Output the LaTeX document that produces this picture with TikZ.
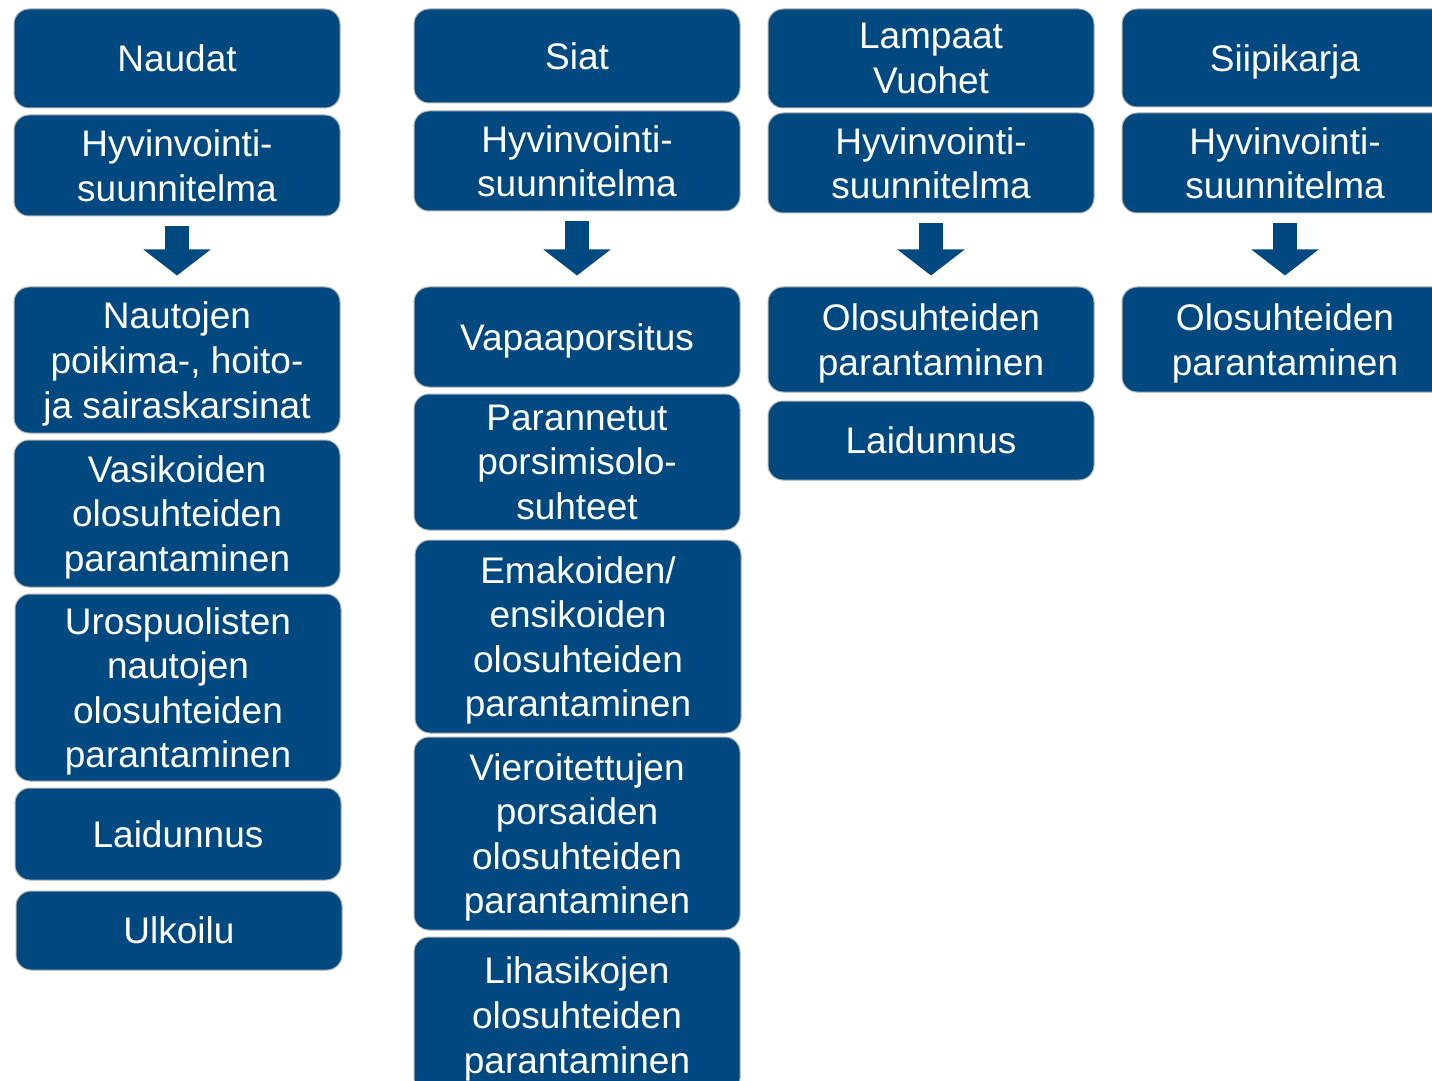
\documentclass[tikz,border=0pt]{standalone}
\usepackage{fontspec}
\setmainfont{Liberation Sans}
\usetikzlibrary{arrows.meta}
\definecolor{boxblue}{RGB}{0,73,128}

\begin{document}
\begin{tikzpicture}[x=0.5pt,y=-0.5pt,
  box/.style={fill=boxblue,draw=black!30,line width=0.5pt,rounded corners=7.5pt,
    text=white,align=center,inner sep=0pt,minimum width=163pt,minimum height=#1,
    font=\fontsize{18.5}{22.3}\selectfont,text depth=-1pt},
  flow/.style={boxblue,line width=12pt,shorten <=5pt,shorten >=5.5pt,
    -{Triangle[width=33pt,length=13pt]}}]
\clip (0,0) rectangle (1432,1081);
\fill[white] (0,0) rectangle (1432,1081);

 \node[box=49.5pt] (naudat) at (177,58.5) {Naudat};
 \node[box=50.5pt] (hyv1) at (177,165.5) {Hyvinvointi-\\suunnitelma};
 \node[box=73pt] (nautojen) at (177,360) {Nautojen\\poikima-, hoito-\\ja sairaskarsinat};
 \node[box=73.5pt] (vasikat) at (177,513.5) {Vasikoiden\\olosuhteiden\\parantaminen};
 \node[box=93.5pt] (urokset) at (178,687.5) {Urospuolisten\\nautojen\\olosuhteiden\\parantaminen};
 \node[box=46pt] (laidunnus1) at (178,834) {Laidunnus};
 \node[box=39.5pt] (ulkoilu) at (179,930.5) {Ulkoilu};

 \node[box=47pt] (siat) at (577,56) {Siat};
 \node[box=50pt] (hyv2) at (577,161) {Hyvinvointi-\\suunnitelma};
 \node[box=50pt] (vapaa) at (577,337) {Vapaaporsitus};
 \node[box=68pt] (porsimis) at (577,462) {Parannetut\\porsimisolo-\\suhteet};
 \node[box=96.5pt] (emakot) at (578,636.5) {Emakoiden/\\ensikoiden\\olosuhteiden\\parantaminen};
 \node[box=96.5pt] (vieroitetut) at (577,833.5) {Vieroitettujen\\porsaiden\\olosuhteiden\\parantaminen};
 \node[box=78pt] (lihasiat) at (577,1015) {Lihasikojen\\olosuhteiden\\parantaminen};

 \node[box=49.5pt] (lampaat) at (931,58.5) {Lampaat\\Vuohet};
 \node[box=50pt] (hyv3) at (931,163) {Hyvinvointi-\\suunnitelma};
 \node[box=52.5pt] (olo3) at (931,339.5) {Olosuhteiden\\parantaminen};
 \node[box=39.5pt] (laidunnus3) at (931,440.5) {Laidunnus};

 \node[box=49pt] (siipikarja) at (1285,58) {Siipikarja};
 \node[box=50pt] (hyv4) at (1285,163) {Hyvinvointi-\\suunnitelma};
 \node[box=52.5pt] (olo4) at (1285,339.5) {Olosuhteiden\\parantaminen};

 \draw[flow] (hyv1) -- (nautojen);
 \draw[flow] (hyv2) -- (vapaa);
 \draw[flow] (hyv3) -- (olo3);
 \draw[flow] (hyv4) -- (olo4);
\end{tikzpicture}
\end{document}
